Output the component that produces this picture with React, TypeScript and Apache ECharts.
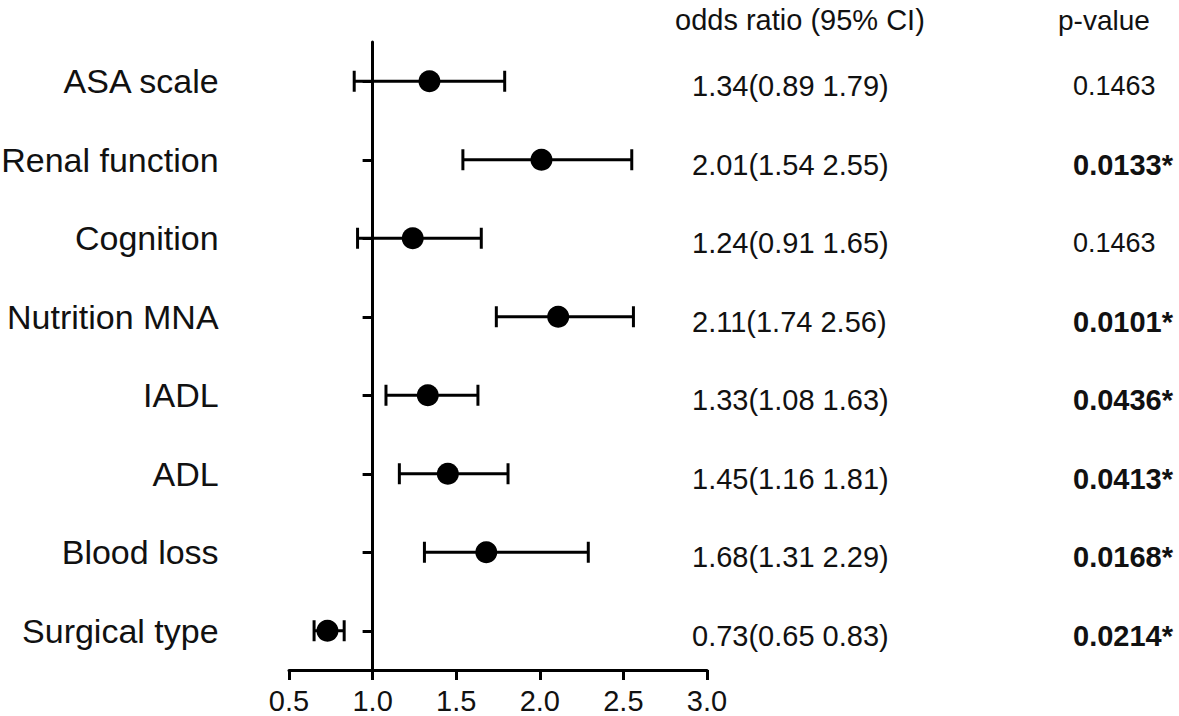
import React, { useEffect, useRef } from "react";
import * as echarts from "echarts";

const factors = [
  "ASA scale",
  "Renal function",
  "Cognition",
  "Nutrition MNA",
  "IADL",
  "ADL",
  "Blood loss",
  "Surgical type",
];
const oddsRatio = [1.34, 2.01, 1.24, 2.11, 1.33, 1.45, 1.68, 0.73];
const ciLow = [0.89, 1.54, 0.91, 1.74, 1.08, 1.16, 1.31, 0.65];
const ciHigh = [1.79, 2.55, 1.65, 2.56, 1.63, 1.81, 2.29, 0.83];
const pValues = ["0.1463", "0.0133", "0.1463", "0.0101", "0.0436", "0.0413", "0.0168", "0.0214"];
const xTicks = [0.5, 1.0, 1.5, 2.0, 2.5, 3.0];

const FONT = "'Liberation Sans', Arial, Helvetica, sans-serif";
const INK = "#111";

export default function App() {
  const ref = useRef<HTMLDivElement>(null);

  useEffect(() => {
    if (!ref.current) return;
    const chart = echarts.init(ref.current, undefined, { renderer: "svg" });

    const gridLeft = 289;
    const gridRight = 472;
    const width = 1179;
    const plotW = width - gridLeft - gridRight;
    const xMin = xTicks[0];
    const xMax = xTicks[xTicks.length - 1];
    const refLine = 1.0;
    const refOffset = -((refLine - xMin) / (xMax - xMin)) * plotW;

    const orLabels = factors.map(
      (_, i) => `{t|${oddsRatio[i].toFixed(2)}(${ciLow[i].toFixed(2)} ${ciHigh[i].toFixed(2)})}`
    );
    const pLabels = pValues.map((p) => (parseFloat(p) < 0.05 ? `{b|${p}*}` : `{n|${p}}`));

    const data = factors.map((_, i) => [i, ciLow[i], ciHigh[i], oddsRatio[i]]);

    chart.setOption({
      animation: false,
      backgroundColor: "#fff",
      title: [
        {
          text: "odds ratio (95% CI)",
          left: 675,
          top: 3,
          padding: 0,
          textStyle: { fontSize: 29, fontWeight: "normal", color: INK, fontFamily: FONT, lineHeight: 34 },
        },
        {
          text: "p-value",
          left: 1058,
          top: 3,
          padding: 0,
          textStyle: { fontSize: 28, fontWeight: "normal", color: INK, fontFamily: FONT, lineHeight: 34 },
        },
      ],
      grid: {
        left: gridLeft,
        right: gridRight,
        top: 42,
        bottom: 46,
        containLabel: false,
        outerBoundsMode: "none",
      },
      xAxis: {
        type: "value",
        min: xMin,
        max: xMax,
        interval: 0.5,
        axisLine: { show: true, lineStyle: { color: "#000", width: 3 } },
        axisTick: { show: true, length: 10, lineStyle: { color: "#000", width: 3 } },
        axisLabel: {
          fontSize: 29,
          fontFamily: FONT,
          color: INK,
          margin: 16,
          formatter: (v: number) => v.toFixed(1),
        },
        splitLine: { show: false },
      },
      yAxis: [
        {
          type: "category",
          data: factors,
          inverse: true,
          position: "left",
          offset: refOffset,
          axisLine: { show: true, lineStyle: { color: "#000", width: 3 } },
          axisTick: { show: true, length: 10, alignWithLabel: true, lineStyle: { color: "#000", width: 3 } },
          axisLabel: { fontSize: 34, fontFamily: FONT, color: INK, margin: 154 },
          splitLine: { show: false },
        },
        {
          type: "category",
          data: orLabels,
          inverse: true,
          position: "right",
          offset: -15,
          axisLine: { show: false },
          axisTick: { show: false },
          axisLabel: {
            fontSize: 29,
            fontFamily: FONT,
            color: INK,
            margin: 0,
            padding: [10, 0, 0, 0],
            rich: {
              t: { fontSize: 29, fontWeight: "normal", fontFamily: FONT, color: INK },
            },
          },
          splitLine: { show: false },
        },
        {
          type: "category",
          data: pLabels,
          inverse: true,
          position: "right",
          offset: 366,
          axisLine: { show: false },
          axisTick: { show: false },
          axisLabel: {
            fontSize: 29,
            fontFamily: FONT,
            color: INK,
            margin: 0,
            padding: [10, 0, 0, 0],
            rich: {
              b: { fontSize: 29, fontWeight: "bold", fontFamily: FONT, color: INK },
              n: { fontSize: 27, fontWeight: "normal", fontFamily: FONT, color: INK },
            },
          },
          splitLine: { show: false },
        },
      ],
      series: [
        {
          type: "custom",
          xAxisIndex: 0,
          yAxisIndex: 0,
          encode: { x: [1, 2, 3], y: 0 },
          data,
          renderItem: (params: any, api: any) => {
            const idx = api.value(0);
            const lo = api.coord([api.value(1), idx]);
            const hi = api.coord([api.value(2), idx]);
            const mid = api.coord([api.value(3), idx]);
            const h = 10.5;
            const st = { stroke: "#000", lineWidth: 3, fill: "none" };
            return {
              type: "group",
              children: [
                { type: "line", shape: { x1: lo[0], y1: lo[1], x2: hi[0], y2: hi[1] }, style: st },
                { type: "line", shape: { x1: lo[0], y1: lo[1] - h, x2: lo[0], y2: lo[1] + h }, style: st },
                { type: "line", shape: { x1: hi[0], y1: hi[1] - h, x2: hi[0], y2: hi[1] + h }, style: st },
                { type: "circle", shape: { cx: mid[0], cy: mid[1], r: 11 }, style: { fill: "#000" } },
              ],
            };
          },
        },
      ],
    });

    return () => chart.dispose();
  }, []);

  return (
    <div
      ref={ref}
      style={{ position: "absolute", left: 0, top: 0, width: 1179, height: 716, background: "#fff" }}
    />
  );
}
